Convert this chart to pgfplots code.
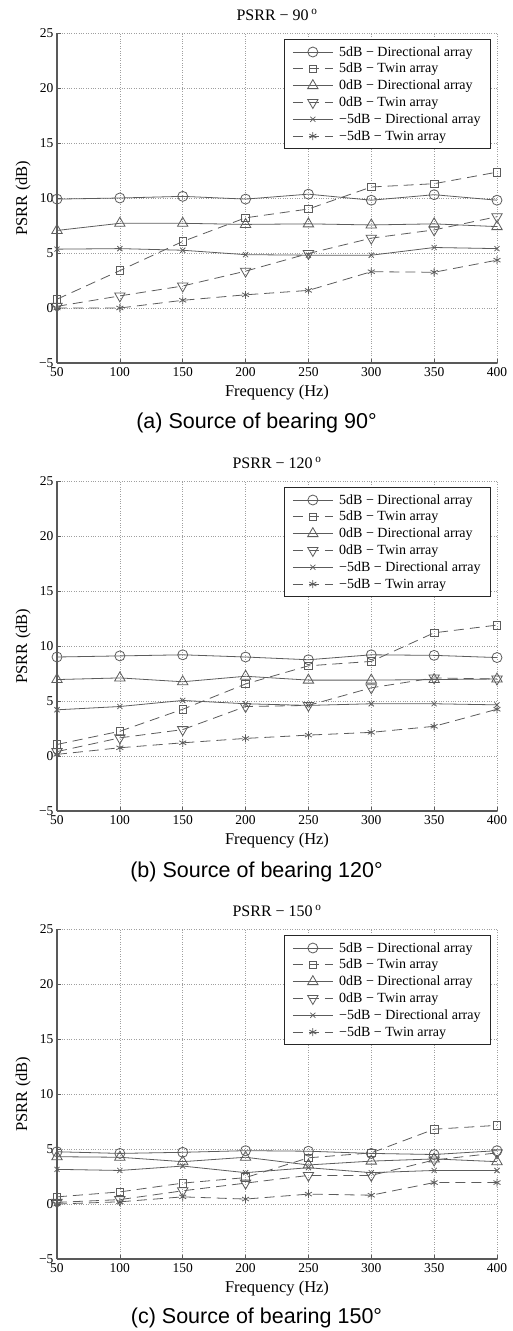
\documentclass[border=0pt]{standalone}
\usepackage{fontspec}
\setmainfont{Liberation Serif}
\newfontfamily\capfont{Liberation Sans}
\usepackage{pgfplots}
\pgfplotsset{compat=1.18}

\definecolor{ln}{gray}{0.36}
\definecolor{ax}{gray}{0.35}

\pgfplotsset{
  psrr/.style={
    scale only axis, width=440pt, height=330pt,
    xmin=50, xmax=400, ymin=-5, ymax=25,
    xtick={50,100,...,400}, xticklabels={50,100,150,200,250,300,350,400},
    ytick={-5,0,...,25}, yticklabels={−5,0,5,10,15,20,25},
    axis x line*=bottom, axis y line*=left,
    axis line style={-, ax, line width=1.1pt},
    grid=major, grid style={dotted, gray!75, line width=0.6pt},
    tick align=inside, major tick length=4pt, tick style={ax, line width=0.6pt},
    ticklabel style={font=\fontsize{13.5}{15}\selectfont},
    xticklabel style={yshift=-1pt},
    xlabel={Frequency (Hz)}, ylabel={PSRR (dB)},
    label style={font=\fontsize{16.5}{18}\selectfont},
    xlabel style={at={(axis description cs:0.5,-0.091)}, anchor=center},
    ylabel style={at={(axis description cs:-0.077,0.5)}, anchor=center},
    title style={at={(axis description cs:0.5,1)}, anchor=center, yshift=12pt,
      font=\fontsize{16}{18}\selectfont},
    legend style={at={(1,1)}, xshift=-6pt, yshift=-6pt, anchor=north east,
      font=\fontsize{14}{16}\selectfont, draw=black!85, line width=0.8pt,
      inner xsep=8pt, inner ysep=5pt, column sep=4pt, row sep=1.6pt},
    legend cell align=left,
    legend image code/.code={
      \draw[mark repeat=2, mark phase=2, #1] plot coordinates {(0pt,0pt) (20pt,0pt) (40pt,0pt)};},
  },
  s1/.style={ln, line width=0.8pt, mark=o, mark size=5pt},
  s2/.style={ln, line width=0.8pt, dash pattern=on 10pt off 6pt, mark=square, mark size=3.8pt, mark options={solid}},
  s3/.style={ln, line width=0.8pt, mark=triangle, mark size=6pt},
  s4/.style={ln, line width=0.8pt, dash pattern=on 10pt off 6pt, mark=triangle, mark size=6pt, mark options={solid, rotate=180}},
  s5/.style={ln, line width=0.8pt, mark=x, mark size=3.6pt},
  s6/.style={ln, line width=0.8pt, dash pattern=on 10pt off 6pt, mark=asterisk, mark size=4pt, mark options={solid}},
}
\newcommand{\psrrlegend}{\legend{5dB − Directional array, 5dB − Twin array,
  0dB − Directional array, 0dB − Twin array,
  −5dB − Directional array, −5dB − Twin array}}

\begin{document}
\begin{tikzpicture}
\useasboundingbox (0pt,0pt) rectangle (513pt,-1331pt);

% (a) 90 deg
\begin{axis}[psrr, at={(57pt,-33pt)}, anchor=north west,
  title={PSRR − 90\,\textsuperscript{o}}]
\addplot[s1] coordinates {(50,9.9) (100,10.0) (150,10.15) (200,9.9) (250,10.35) (300,9.8) (350,10.3) (400,9.8)};
\addplot[s2] coordinates {(50,0.8) (100,3.4) (150,6.05) (200,8.2) (250,9.0) (300,11.0) (350,11.3) (400,12.35)};
\addplot[s3] coordinates {(50,7.05) (100,7.7) (150,7.7) (200,7.6) (250,7.65) (300,7.55) (350,7.65) (400,7.4)};
\addplot[s4] coordinates {(50,0.15) (100,1.1) (150,2.0) (200,3.35) (250,4.95) (300,6.35) (350,7.1) (400,8.3)};
\addplot[s5] coordinates {(50,5.35) (100,5.4) (150,5.25) (200,4.85) (250,4.8) (300,4.8) (350,5.5) (400,5.4)};
\addplot[s6] coordinates {(50,0.0) (100,0.0) (150,0.7) (200,1.2) (250,1.6) (300,3.3) (350,3.25) (400,4.35)};
\psrrlegend
\end{axis}
\node[font=\capfont\fontsize{21.5}{24}\selectfont] at (256.5pt,-423pt) {(a) Source of bearing 90°};

% (b) 120 deg
\begin{axis}[psrr, at={(57pt,-481pt)}, anchor=north west,
  title={PSRR − 120\,\textsuperscript{o}}]
\addplot[s1] coordinates {(50,9.0) (100,9.1) (150,9.2) (200,9.0) (250,8.75) (300,9.2) (350,9.15) (400,8.95)};
\addplot[s2] coordinates {(50,1.05) (100,2.25) (150,4.25) (200,6.55) (250,8.2) (300,8.6) (350,11.2) (400,11.9)};
\addplot[s3] coordinates {(50,6.95) (100,7.1) (150,6.75) (200,7.25) (250,6.9) (300,6.9) (350,6.95) (400,7.0)};
\addplot[s4] coordinates {(50,0.4) (100,1.65) (150,2.4) (200,4.5) (250,4.6) (300,6.2) (350,7.1) (400,7.0)};
\addplot[s5] coordinates {(50,4.2) (100,4.5) (150,5.05) (200,4.75) (250,4.6) (300,4.75) (350,4.75) (400,4.65)};
\addplot[s6] coordinates {(50,0.15) (100,0.75) (150,1.2) (200,1.6) (250,1.9) (300,2.15) (350,2.7) (400,4.25)};
\psrrlegend
\end{axis}
\node[font=\capfont\fontsize{21.5}{24}\selectfont] at (256.5pt,-872pt) {(b) Source of bearing 120°};

% (c) 150 deg
\begin{axis}[psrr, at={(57pt,-929pt)}, anchor=north west,
  title={PSRR − 150\,\textsuperscript{o}}]
\addplot[s1] coordinates {(50,4.75) (100,4.6) (150,4.7) (200,4.85) (250,4.8) (300,4.6) (350,4.5) (400,4.85)};
\addplot[s2] coordinates {(50,0.65) (100,1.1) (150,1.9) (200,2.4) (250,4.2) (300,4.65) (350,6.8) (400,7.15)};
\addplot[s3] coordinates {(50,4.3) (100,4.25) (150,3.85) (200,4.25) (250,3.55) (300,3.9) (350,4.1) (400,3.85)};
\addplot[s4] coordinates {(50,0.15) (100,0.4) (150,1.2) (200,1.9) (250,2.6) (300,2.6) (350,4.0) (400,4.65)};
\addplot[s5] coordinates {(50,3.15) (100,3.05) (150,3.45) (200,2.85) (250,3.3) (300,2.85) (350,3.05) (400,3.05)};
\addplot[s6] coordinates {(50,0.0) (100,0.2) (150,0.65) (200,0.45) (250,0.9) (300,0.8) (350,1.95) (400,1.95)};
\psrrlegend
\end{axis}
\node[font=\capfont\fontsize{21.5}{24}\selectfont] at (256.5pt,-1318pt) {(c) Source of bearing 150°};
\end{tikzpicture}
\end{document}
